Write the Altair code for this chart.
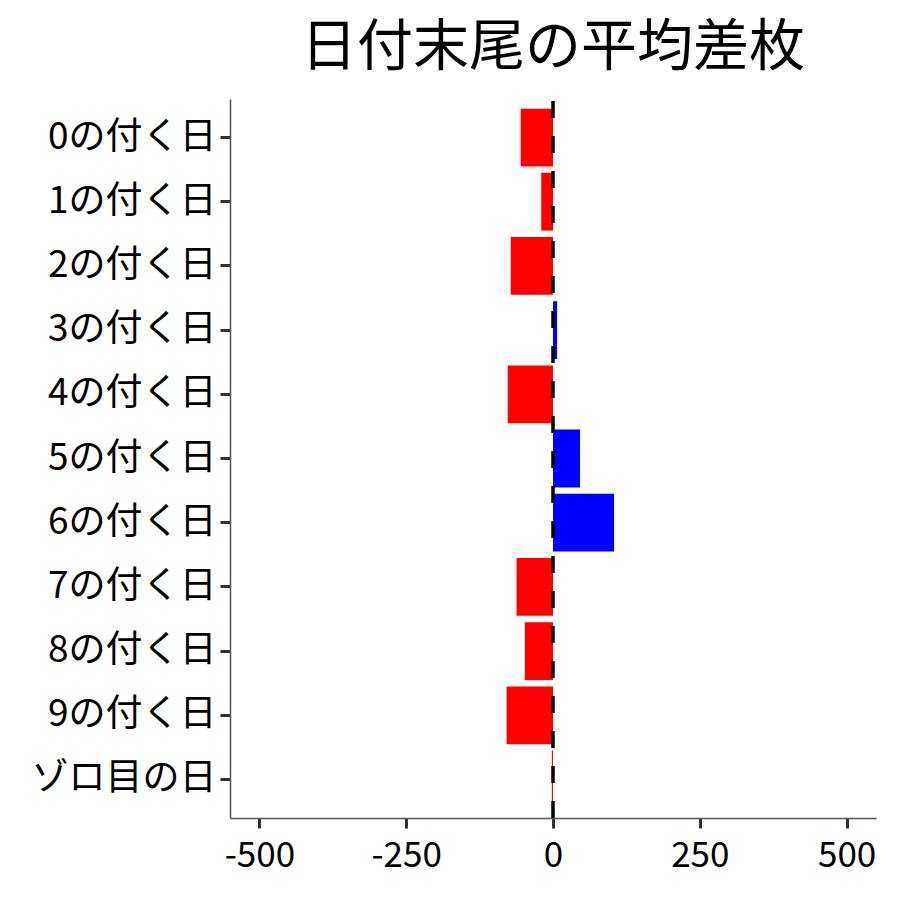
import altair as alt
import pandas as pd

categories = ["0の付く日", "1の付く日", "2の付く日", "3の付く日", "4の付く日",
              "5の付く日", "6の付く日", "7の付く日", "8の付く日", "9の付く日", "ゾロ目の日"]
values = [-55, -20, -72, 7, -77, 46, 104, -62, -48, -79, -2]

df = pd.DataFrame({"cat": categories, "val": values})
df["sign"] = ["pos" if v > 0 else "neg" for v in values]

W, H = 646, 719
FONT = "Noto Sans CJK JP"

bars = alt.Chart(df).mark_bar().encode(
    y=alt.Y("cat:N", sort=categories, title=None,
            scale=alt.Scale(paddingInner=0.1, paddingOuter=0.15),
            axis=alt.Axis(labelFontSize=37, labelFont=FONT, labelColor="black", labelLimit=400,
                          tickSize=10, tickWidth=3, tickColor="#333333",
                          domainColor="#555555", domainWidth=1.5, labelPadding=4)),
    x=alt.X("val:Q", title=None,
            scale=alt.Scale(domain=[-550, 550], nice=False, zero=False),
            axis=alt.Axis(values=[-500, -250, 0, 250, 500], labelFontSize=35,
                          labelExpr="datum.value + ''",
                          labelFont=FONT, labelColor="black", grid=False,
                          tickSize=10, tickWidth=3, tickColor="#333333",
                          domainColor="#555555", domainWidth=1.5, labelPadding=10)),
    color=alt.Color("sign:N", scale=alt.Scale(domain=["neg", "pos"], range=["#FF0000", "#0000FF"]),
                    legend=None),
)

zero_df = pd.DataFrame({"x": [0]})
rule = alt.Chart(zero_df).mark_rule(color="black", strokeWidth=3.5, strokeDash=[17, 18]).encode(
    x="x:Q", y=alt.value(H), y2=alt.value(0)
)

chart = alt.layer(bars, rule).properties(
    width=W, height=H,
    padding={"left": 23, "top": 12, "right": 5, "bottom": 5},
    title=alt.TitleParams("日付末尾の平均差枚", fontSize=56, font=FONT, fontWeight="normal",
                          color="black", anchor="middle", offset=20),
).configure_view(stroke=None).configure_axis(grid=False)

chart.save("out.html", embed_options={"renderer": "svg", "actions": False})
